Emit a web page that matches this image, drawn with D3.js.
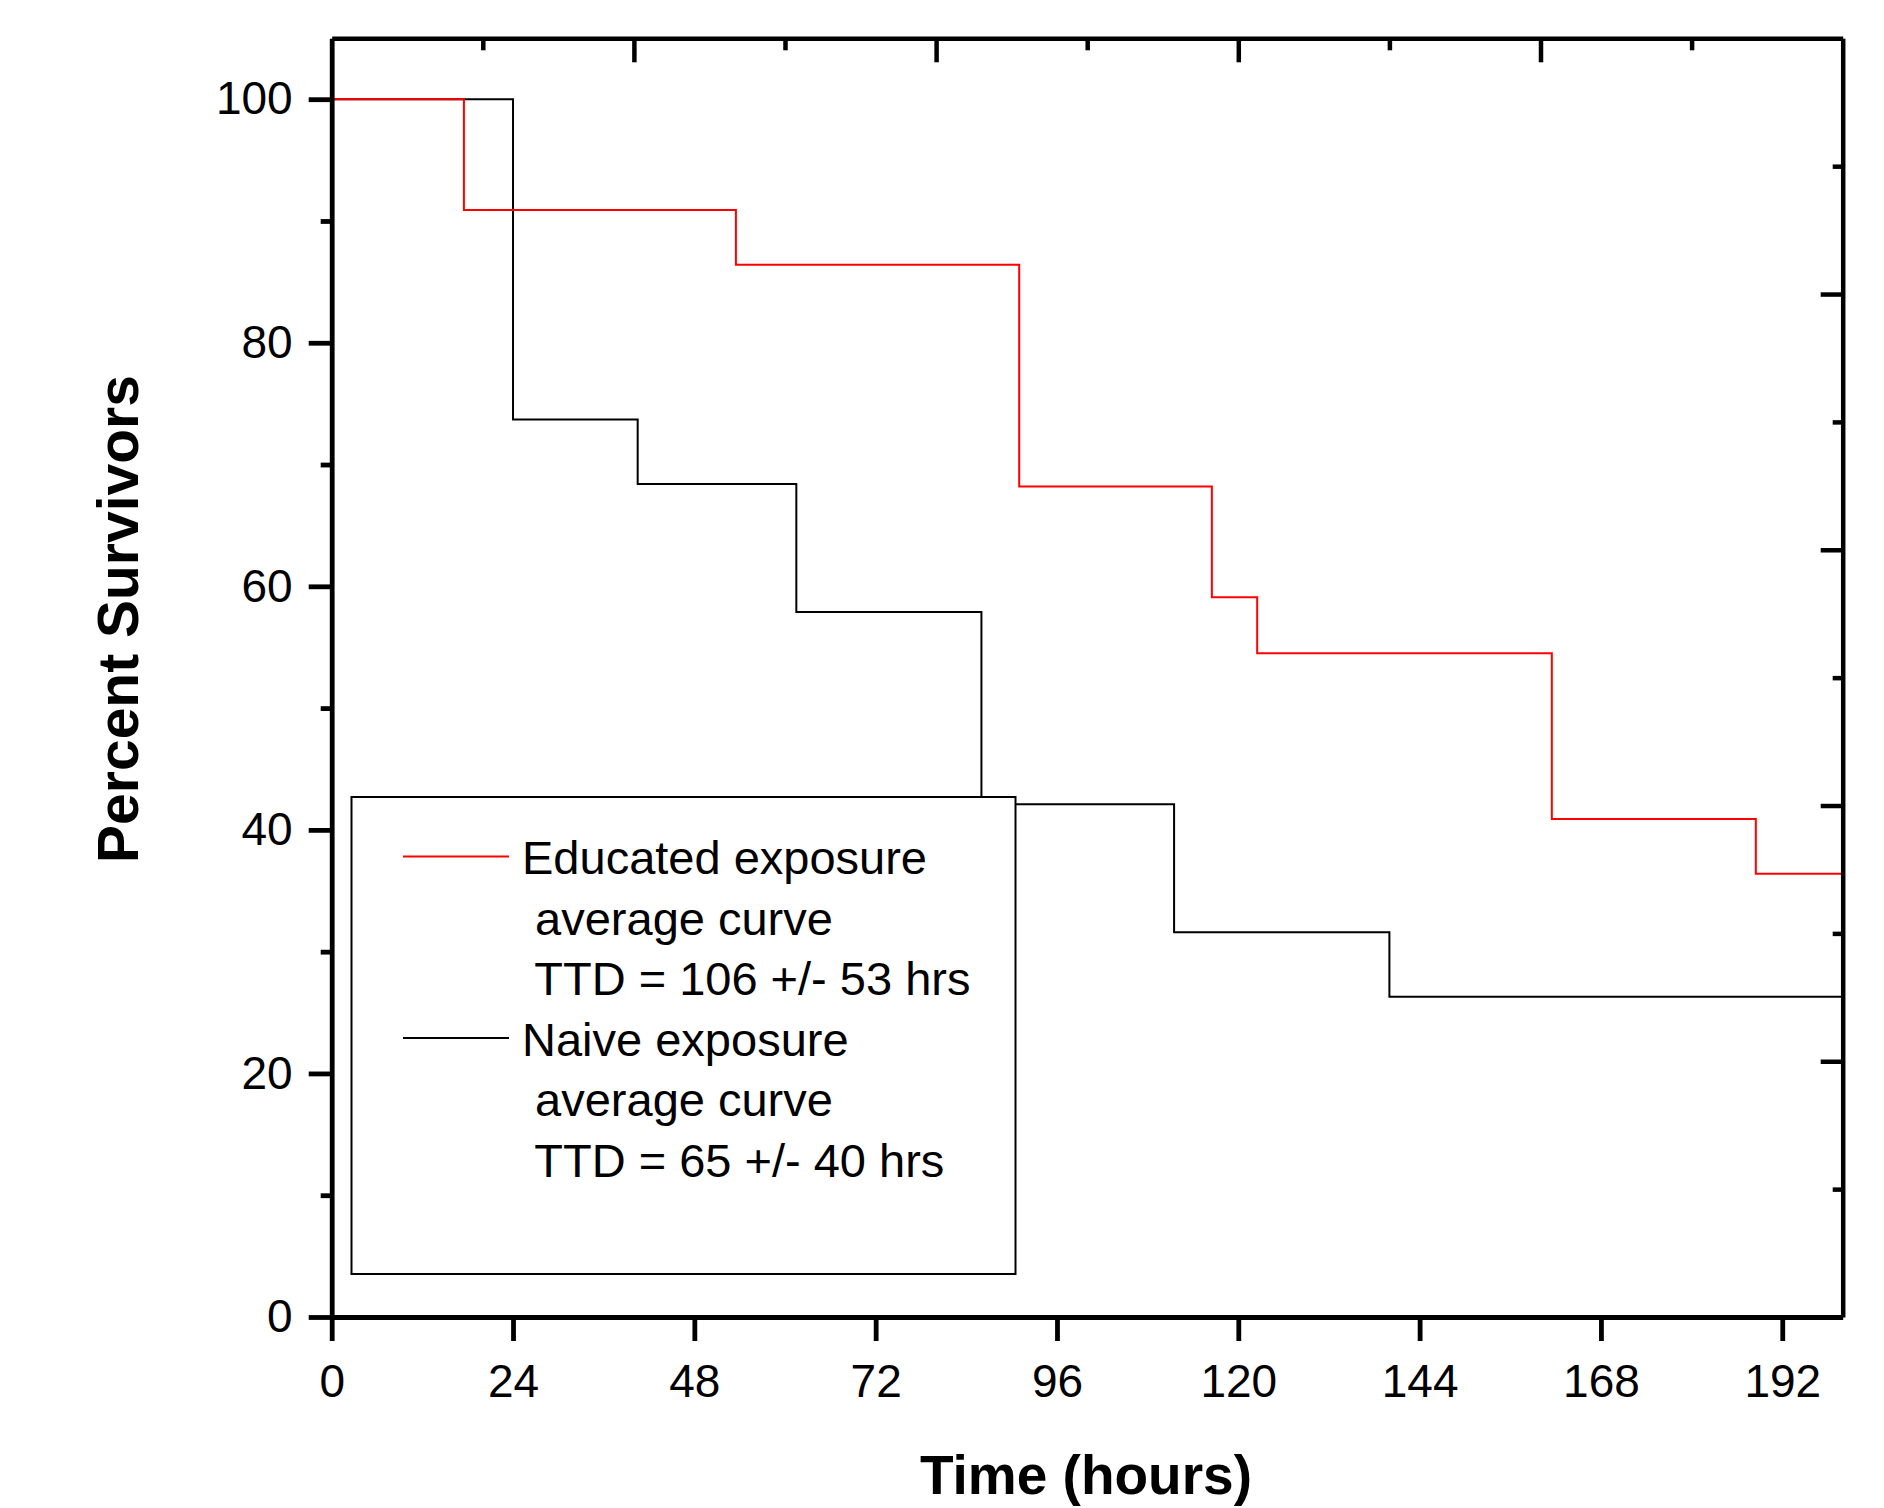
<!DOCTYPE html>
<html>
<head>
<meta charset="utf-8">
<script src="https://cdn.jsdelivr.net/npm/d3@7"></script>
<style>
  html, body { margin: 0; padding: 0; background: #fff; }
  svg { display: block; font-family: "Liberation Sans", Arial, sans-serif; }
</style>
</head>
<body>
<svg id="chart" width="1884" height="1508"></svg>
<script>
// ---- data ----
const educatedTimes    = [0, 17.5, 53.5, 91, 116.5, 122.5, 161.5, 188.5, 200];
const educatedSurvival = [100, 90.9, 86.4, 68.2, 59.1, 54.5, 40.9, 36.4, 36.4];
const naiveTimes       = [0, 24, 40.5, 61.5, 86, 111.5, 140, 200];
const naiveSurvival    = [100, 73.7, 68.4, 57.9, 42.1, 31.6, 26.3, 26.3];

const xTicks = [0, 24, 48, 72, 96, 120, 144, 168, 192];
const yTicks = [0, 20, 40, 60, 80, 100];
const yMinorTicks = [10, 30, 50, 70, 90];
const oppMajorTicks = [0.2, 0.4, 0.6, 0.8];
const oppMinorTicks = [0.1, 0.3, 0.5, 0.7, 0.9];

const legendLines = [
  ["Educated exposure", " average curve", " TTD = 106 +/- 53 hrs"],
  ["Naive exposure", " average curve", " TTD = 65 +/- 40 hrs"]
];
const seriesColors = ["#ff0000", "#000000"];

// ---- layout ----
const L = 331.7, R = 1842.7, T = 38.3, B = 1317;
const svg = d3.select("#chart");

const x = d3.scaleLinear().domain([0, 200]).range([L, R]);
const y = d3.scaleLinear().domain([0, 105]).range([B, T]);
const xTop = d3.scaleLinear().domain([0, 1]).range([L, R]);
const yRight = d3.scaleLinear().domain([0, 1]).range([B, T]);

const line = d3.line()
  .x(d => x(d[0]))
  .y(d => y(d[1]))
  .curve(d3.curveStepAfter);

const educated = educatedTimes.map((t, i) => [t, educatedSurvival[i]]);
const naive = naiveTimes.map((t, i) => [t, naiveSurvival[i]]);

svg.append("path").datum(naive)
  .attr("d", line).attr("fill", "none")
  .attr("stroke", seriesColors[1]).attr("stroke-width", 2);
svg.append("path").datum(educated)
  .attr("d", line).attr("fill", "none")
  .attr("stroke", seriesColors[0]).attr("stroke-width", 2);

// ---- legend ----
const lg = svg.append("g");
lg.append("rect")
  .attr("x", 351.5).attr("y", 797).attr("width", 664).attr("height", 477)
  .attr("fill", "#fff").attr("stroke", "#000").attr("stroke-width", 2);
const lineGap = 60.5;
legendLines.forEach((lines, s) => {
  const base = 874 + s * 3 * lineGap;
  lg.append("line")
    .attr("x1", 403).attr("x2", 509)
    .attr("y1", base - 17.5).attr("y2", base - 17.5)
    .attr("stroke", seriesColors[s]).attr("stroke-width", 2);
  lines.forEach((txt, k) => {
    lg.append("text")
      .attr("x", 522).attr("y", base + k * lineGap)
      .attr("font-size", 47)
      .style("white-space", "pre")
      .attr("fill", "#000")
      .text(txt);
  });
});

// ---- axes ----
function styleAxis(g, sw) {
  g.selectAll("path.domain").attr("stroke", "#000").attr("stroke-width", sw);
  g.selectAll(".tick line").attr("stroke", "#000").attr("stroke-width", sw);
  g.selectAll(".tick text").attr("fill", "#000")
    .attr("font-family", "'Liberation Sans', Arial, sans-serif")
    .attr("font-size", 46);
}

// bottom
const gB = svg.append("g").attr("transform", `translate(0,${B})`)
  .call(d3.axisBottom(x).tickValues(xTicks).tickSize(24).tickSizeOuter(0).tickPadding(23).tickFormat(d3.format("d")));
styleAxis(gB, 4.8);

// left
const gL = svg.append("g").attr("transform", `translate(${L},0)`)
  .call(d3.axisLeft(y).tickValues(yTicks).tickSize(23).tickSizeOuter(0).tickPadding(16).tickFormat(d3.format("d")));
styleAxis(gL, 4.8);
const gLm = svg.append("g").attr("transform", `translate(${L},0)`)
  .call(d3.axisLeft(y).tickValues(yMinorTicks).tickSize(11).tickSizeOuter(0).tickFormat(""));
styleAxis(gLm, 4.8);
gLm.select("path.domain").remove();

// top
const gT = svg.append("g").attr("transform", `translate(0,${T})`)
  .call(d3.axisTop(xTop).tickValues(oppMajorTicks).tickSize(-24).tickSizeOuter(0).tickFormat(""));
styleAxis(gT, 4.5);
const gTm = svg.append("g").attr("transform", `translate(0,${T})`)
  .call(d3.axisTop(xTop).tickValues(oppMinorTicks).tickSize(-12).tickSizeOuter(0).tickFormat(""));
styleAxis(gTm, 4.5);
gTm.select("path.domain").remove();

// right
const gR = svg.append("g").attr("transform", `translate(${R},0)`)
  .call(d3.axisRight(yRight).tickValues(oppMajorTicks).tickSize(-22).tickSizeOuter(0).tickFormat(""));
styleAxis(gR, 4.5);
const gRm = svg.append("g").attr("transform", `translate(${R},0)`)
  .call(d3.axisRight(yRight).tickValues(oppMinorTicks).tickSize(-10).tickSizeOuter(0).tickFormat(""));
styleAxis(gRm, 4.5);
gRm.select("path.domain").remove();

// ---- axis titles ----
svg.append("text")
  .attr("x", 1086).attr("y", 1494)
  .attr("text-anchor", "middle")
  .attr("font-size", 55).attr("font-weight", "bold")
  .text("Time (hours)");

svg.append("text")
  .attr("transform", "translate(138,619) rotate(-90)")
  .attr("text-anchor", "middle")
  .attr("font-size", 57).attr("font-weight", "bold")
  .text("Percent Survivors");
</script>
</body>
</html>
